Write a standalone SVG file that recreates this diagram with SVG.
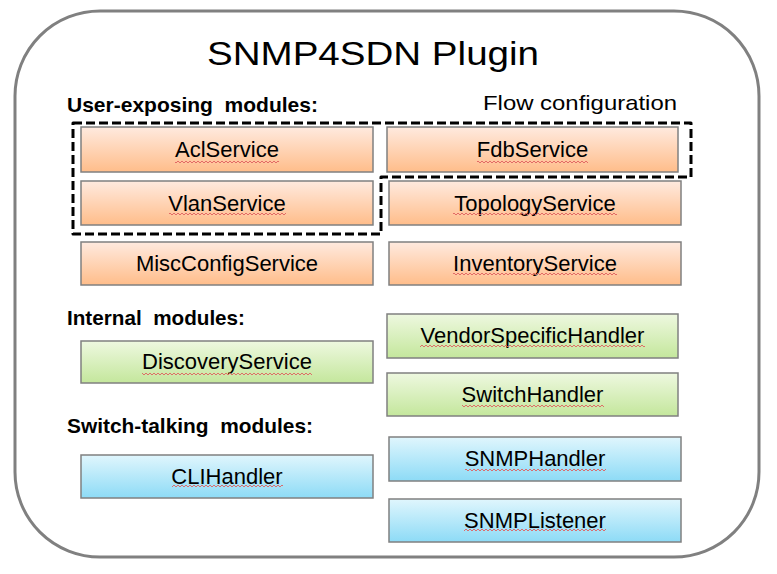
<svg xmlns="http://www.w3.org/2000/svg" width="777" height="574" viewBox="0 0 777 574">
<defs>
<linearGradient id="gOr" x1="0" y1="0" x2="0" y2="1"><stop offset="0" stop-color="#ffeadf"/><stop offset="1" stop-color="#ffbd8a"/></linearGradient>
<linearGradient id="gGr" x1="0" y1="0" x2="0" y2="1"><stop offset="0" stop-color="#eef8e0"/><stop offset="1" stop-color="#c4e79c"/></linearGradient>
<linearGradient id="gBl" x1="0" y1="0" x2="0" y2="1"><stop offset="0" stop-color="#e0f6fd"/><stop offset="1" stop-color="#8ddbf6"/></linearGradient>
<pattern id="sq" width="4" height="4" patternUnits="userSpaceOnUse"><path d="M0 3 L2 1 L4 3" fill="none" stroke="#e06060" stroke-width="0.9"/></pattern>
</defs>
<style>
.box{stroke:#808080;stroke-width:1.5}
.or{fill:url(#gOr)}
.gr{fill:url(#gGr)}
.bl{fill:url(#gBl)}
.lbl{font-family:"Liberation Sans",Arial,sans-serif;font-size:22px;fill:#000;text-anchor:middle}
.sec{font-family:"Liberation Sans",Arial,sans-serif;font-size:20.5px;font-weight:bold;fill:#000}
.sq{fill:url(#sq)}
</style>
<rect width="777" height="574" fill="#ffffff"/>
<rect x="15" y="11" width="744" height="546" rx="85" ry="85" fill="#ffffff" stroke="#808080" stroke-width="3"/>
<text x="373" y="65" font-family="'Liberation Sans',Arial,sans-serif" font-size="34" text-anchor="middle" textLength="332" lengthAdjust="spacingAndGlyphs">SNMP4SDN Plugin</text>
<text class="sec" x="67" y="112" xml:space="preserve" textLength="251" lengthAdjust="spacingAndGlyphs">User-exposing  modules:</text>
<text x="483" y="110" font-family="'Liberation Sans',Arial,sans-serif" font-size="21" textLength="194" lengthAdjust="spacingAndGlyphs">Flow configuration</text>
<text class="sec" x="67" y="325" xml:space="preserve" textLength="178" lengthAdjust="spacingAndGlyphs">Internal  modules:</text>
<text class="sec" x="67" y="433" xml:space="preserve" textLength="246" lengthAdjust="spacingAndGlyphs">Switch-talking  modules:</text>

<g id="AclService"><rect class="box or" x="81" y="127" width="292" height="45"/><text class="lbl" x="227" y="157">AclService</text><rect class="sq" x="175" y="160" width="104" height="4"/></g>
<g id="VlanService"><rect class="box or" x="81" y="181" width="292" height="44"/><text class="lbl" x="227" y="211">VlanService</text><rect class="sq" x="169" y="212" width="117" height="4"/></g>
<g id="MiscConfigService"><rect class="box or" x="81" y="242" width="292" height="43"/><text class="lbl" x="227" y="271">MiscConfigService</text></g>
<g id="FdbService"><rect class="box or" x="387" y="127" width="291" height="45"/><text class="lbl" x="532.5" y="157">FdbService</text><rect class="sq" x="477" y="160" width="111" height="4"/></g>
<g id="TopologyService"><rect class="box or" x="389" y="181" width="292" height="44"/><text class="lbl" x="535" y="211">TopologyService</text><rect class="sq" x="453" y="212" width="164" height="4"/></g>
<g id="InventoryService"><rect class="box or" x="389" y="242" width="292" height="43"/><text class="lbl" x="535" y="271">InventoryService</text><rect class="sq" x="453" y="272" width="164" height="4"/></g>
<g id="DiscoveryService"><rect class="box gr" x="81" y="341" width="292" height="42"/><text class="lbl" x="227" y="369">DiscoveryService</text><rect class="sq" x="142" y="372" width="170" height="4"/></g>
<g id="CLIHandler"><rect class="box bl" x="81" y="455" width="292" height="43"/><text class="lbl" x="227" y="484">CLIHandler</text><rect class="sq" x="172" y="484" width="111" height="4"/></g>
<g id="VendorSpecificHandler"><rect class="box gr" x="387" y="314" width="291" height="44"/><text class="lbl" x="532.5" y="343">VendorSpecificHandler</text><rect class="sq" x="420" y="344" width="225" height="4"/></g>
<g id="SwitchHandler"><rect class="box gr" x="387" y="373" width="291" height="43"/><text class="lbl" x="532.5" y="402">SwitchHandler</text><rect class="sq" x="462" y="404" width="142" height="4"/></g>
<g id="SNMPHandler"><rect class="box bl" x="389" y="437" width="292" height="44"/><text class="lbl" x="535" y="466">SNMPHandler</text><rect class="sq" x="465" y="468" width="141" height="4"/></g>
<g id="SNMPListener"><rect class="box bl" x="389" y="499" width="292" height="43"/><text class="lbl" x="535" y="528">SNMPListener</text><rect class="sq" x="464" y="528" width="142" height="4"/></g>

<g id="connectors">
<path id="flow-configuration" d="M73 123 H691 V177 H381 V234 H73 Z" fill="none" stroke="#000" stroke-width="3" stroke-dasharray="9 4" stroke-linejoin="round"/>
</g>
</svg>
